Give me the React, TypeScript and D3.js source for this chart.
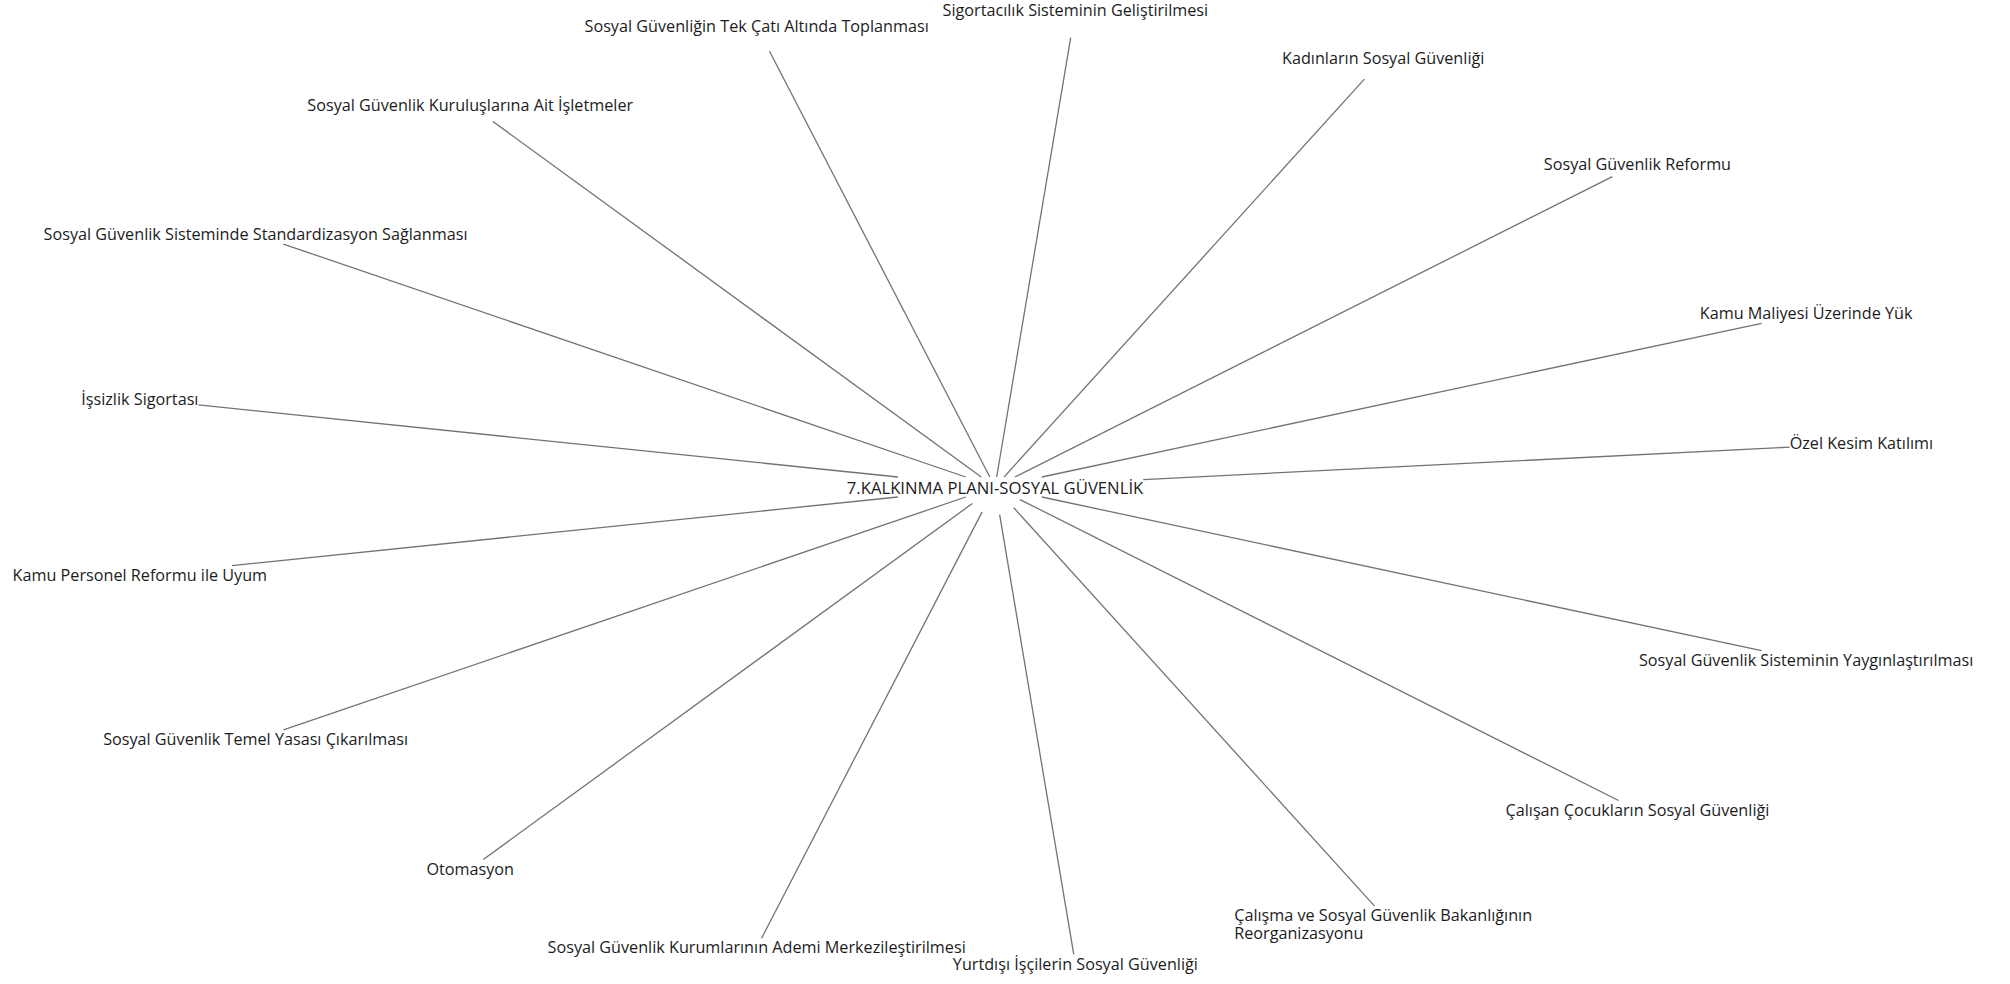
import { useEffect, useRef } from 'react';
import * as d3 from 'd3';

const WIDTH = 2010;
const HEIGHT = 984;

// centre node of the diagram
const hubLabel = '7.KALKINMA PLANI-SOSYAL GÜVENLİK';

// topics around the hub, starting on the right and going up (counter-clockwise)
const topicLabels = [
  'Özel Kesim Katılımı',
  'Kamu Maliyesi Üzerinde Yük',
  'Sosyal Güvenlik Reformu',
  'Kadınların Sosyal Güvenliği',
  'Sigortacılık Sisteminin Geliştirilmesi',
  'Sosyal Güvenliğin Tek Çatı Altında Toplanması',
  'Sosyal Güvenlik Kuruluşlarına Ait İşletmeler',
  'Sosyal Güvenlik Sisteminde Standardizasyon Sağlanması',
  'İşsizlik Sigortası',
  'Kamu Personel Reformu ile Uyum',
  'Sosyal Güvenlik Temel Yasası Çıkarılması',
  'Otomasyon',
  'Sosyal Güvenlik Kurumlarının Ademi Merkezileştirilmesi',
  'Yurtdışı İşçilerin Sosyal Güvenliği',
  'Çalışma ve Sosyal Güvenlik Bakanlığının\nReorganizasyonu',
  'Çalışan Çocukların Sosyal Güvenliği',
  'Sosyal Güvenlik Sisteminin Yaygınlaştırılması',
];

// position of each topic on the ellipse, degrees (0 = right, negative = up)
const topicAngles = [
  -5.2, -21.2, -42.4, -63.5, -84.7, -105.9, -127.1, -148.2, -169.4,
  169.4, 148.2, 127.1, 105.9, 84.7, 63.5, 42.4, 21.2,
];

const FONT = '"Open Sans", "Noto Sans", sans-serif';
const LABEL_SIZE = 16.2;
const HUB_SIZE = 16.7;
const LINE_GAP = 18;
const HALF_H = 9.5; // half height of a label box
const NODE_R = 28; // invisible node disc hanging under each label

type Pt = { x: number; y: number };
type Extent = { left: number; right: number; top: number; bottom: number };

// distance from a node centre to the edge of its shape along unit vector u
function edgeDist(u: Pt, e: Extent): number {
  const tx = u.x > 0 ? e.right / u.x : u.x < 0 ? e.left / -u.x : Infinity;
  const ty = u.y > 0 ? e.bottom / u.y : u.y < 0 ? e.top / -u.y : Infinity;
  let d = Math.min(tx, ty);
  if (u.y > 0) d = Math.max(d, NODE_R);
  return d;
}

function App() {
  const svgRef = useRef<SVGSVGElement | null>(null);

  useEffect(() => {
    if (!svgRef.current) return;
    const svg = d3.select(svgRef.current);
    svg.selectAll('*').remove();

    // the topics sit on an ellipse round the hub
    const xScale = d3.scaleLinear().domain([-1, 1]).range([125, 1865]);
    const yScale = d3.scaleLinear().domain([-1, 1]).range([8, 966]);

    const hub: Pt = { x: xScale(0), y: yScale(0) };

    const linkLayer = svg.append('g');
    const labelLayer = svg
      .append('g')
      .attr('font-family', FONT)
      .attr('fill', '#1c1c1c');

    const hubText = labelLayer
      .append('text')
      .attr('x', hub.x)
      .attr('y', hub.y + 1)
      .attr('dy', '0.35em')
      .attr('text-anchor', 'middle')
      .attr('font-size', HUB_SIZE)
      .text(hubLabel);
    const hubW = (hubText.node() as SVGTextElement).getComputedTextLength();
    const hubExt: Extent = { left: hubW / 2, right: hubW / 2, top: 10, bottom: 10 };

    const line = d3
      .line<Pt>()
      .x((d) => d.x)
      .y((d) => d.y);

    topicLabels.forEach((label, i) => {
      const a = (topicAngles[i] * Math.PI) / 180;
      const node: Pt = { x: xScale(Math.cos(a)), y: yScale(Math.sin(a)) };
      const rows = label.split('\n');

      const text = labelLayer
        .append('text')
        .attr('font-size', LABEL_SIZE)
        .attr('text-anchor', 'start');
      const spans = rows.map((row, j) =>
        text
          .append('tspan')
          .attr('y', node.y + j * LINE_GAP)
          .attr('dy', '0.35em')
          .text(row)
      );
      const w = d3.max(spans, (s) => (s.node() as SVGTSpanElement).getComputedTextLength()) || 0;
      spans.forEach((s) => s.attr('x', node.x - w / 2));

      const ext: Extent = {
        left: w / 2,
        right: w / 2,
        top: HALF_H,
        bottom: HALF_H + (rows.length - 1) * LINE_GAP,
      };

      const len = Math.hypot(node.x - hub.x, node.y - hub.y);
      const u: Pt = { x: (node.x - hub.x) / len, y: (node.y - hub.y) / len };
      const back: Pt = { x: -u.x, y: -u.y };
      const d0 = edgeDist(u, hubExt);
      const d1 = len - edgeDist(back, ext);
      const pts: Pt[] = [d0, d1].map((d) => ({ x: hub.x + d * u.x, y: hub.y + d * u.y }));

      linkLayer
        .append('path')
        .attr('d', line(pts))
        .attr('fill', 'none')
        .attr('stroke', '#737373')
        .attr('stroke-width', 1.3);
    });

    return () => {
      svg.selectAll('*').remove();
    };
  }, []);

  return (
    <svg
      ref={svgRef}
      width={WIDTH}
      height={HEIGHT}
      style={{ position: 'absolute', left: 0, top: 0, display: 'block', background: '#fff' }}
    />
  );
}

export default App;
